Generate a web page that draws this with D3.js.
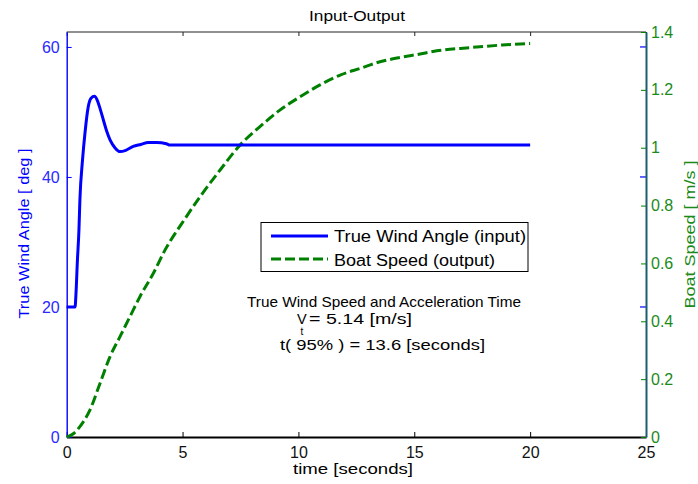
<!DOCTYPE html>
<html>
<head>
<meta charset="utf-8">
<script src="https://cdn.jsdelivr.net/npm/d3@7"></script>
<style>
  html, body { margin: 0; padding: 0; background: #fff; }
  svg { display: block; font-family: "Liberation Sans", Arial, Helvetica, sans-serif; }
</style>
</head>
<body>
<svg id="chart" width="698" height="484"></svg>
<script>
// True wind angle response (input)
const angleTime = [0, 0.36, 0.40, 0.46, 0.53, 0.57, 0.68, 0.79, 0.93, 1.05, 1.2, 1.32, 1.45, 1.58, 1.72, 1.87, 2.08, 2.3, 2.55, 2.87, 3.2, 3.52, 3.88, 4.3, 4.46, 20];
const angleDeg  = [20, 20, 22, 27, 32, 36.5, 42.5, 46.8, 50.8, 52.1, 52.4, 51.8, 50.4, 48.8, 47.1, 45.7, 44.5, 43.9, 44.1, 44.7, 45.0, 45.3, 45.3, 45.1, 44.9, 44.9];

// Boat speed response (output)
const speedTime = [0, 0.3, 0.57, 1.0, 1.44, 1.87, 2.3, 2.73, 3.16, 3.74, 4.24, 5.0, 5.75, 6.62, 7.48, 8.34, 9.2, 10.07, 10.93, 11.8, 12.66, 13.52, 14.39, 15.25, 15.97, 17.4, 18.8, 20];
const speedMs   = [0, 0.012, 0.036, 0.093, 0.186, 0.278, 0.347, 0.416, 0.485, 0.566, 0.646, 0.742, 0.83, 0.923, 1.009, 1.073, 1.13, 1.176, 1.217, 1.251, 1.274, 1.297, 1.312, 1.324, 1.335, 1.346, 1.355, 1.36];

// Axis ticks
const timeTicks  = [0, 5, 10, 15, 20, 25];
const angleTicks = [0, 20, 40, 60];
const speedTicks = [0, 0.2, 0.4, 0.6, 0.8, 1, 1.2, 1.4];

// Annotation values
const windSpeed = 5.14;
const accelTime = 13.6;

const svg = d3.select("#chart");
const L = 66.7, R = 646, T = 32, B = 437;

const x = d3.scaleLinear().domain([0, 25]).range([L, R]);
const yL = d3.scaleLinear().domain([0, 62.3]).range([B, T]);
const yR = d3.scaleLinear().domain([0, 1.4]).range([B, T]);

const blue = "#0000ff", green = "#008000", teal = "#1b5e6e", labelGreen = "#1a8a1a";

// Text helper: optional stretched width
function label(parent, txt, attrs, width) {
  const t = parent.append("text").text(txt);
  Object.entries(attrs).forEach(([k, v]) => t.attr(k, v));
  if (width) t.attr("textLength", width).attr("lengthAdjust", "spacingAndGlyphs");
  return t;
}

// Title
label(svg, "Input-Output", { x: 357, y: 21, "text-anchor": "middle", "font-size": 14, fill: "#000" }, 96);

// Top border with inward ticks
svg.append("line").attr("x1", L).attr("x2", R).attr("y1", T).attr("y2", T)
  .attr("stroke", "#222").attr("stroke-width", 1.2);
const topAxis = d3.axisTop(x).tickValues(timeTicks).tickSizeInner(-4).tickSizeOuter(0).tickFormat("");
svg.append("g").attr("transform", `translate(0,${T})`).call(topAxis)
  .call(g => g.select(".domain").remove())
  .selectAll("line").attr("stroke", "#222");

// Bottom axis
const bottomAxis = d3.axisBottom(x).tickValues(timeTicks).tickSizeInner(-5).tickSizeOuter(0).tickPadding(9).tickFormat(d3.format("d"));
const gx = svg.append("g").attr("transform", `translate(0,${B})`).call(bottomAxis);
gx.select(".domain").attr("stroke", "#000").attr("stroke-width", 2);
gx.selectAll(".tick line").attr("stroke", "#000");
gx.selectAll("text").attr("font-size", 16).attr("fill", "#111").attr("font-family", "Liberation Sans, Arial, sans-serif").attr("dy", "0.75em");

// Left axis (angle)
const leftAxis = d3.axisLeft(yL).tickValues(angleTicks).tickSizeInner(-5).tickSizeOuter(0).tickPadding(7).tickFormat(d3.format("d"));
const gl = svg.append("g").attr("transform", `translate(${L},0)`).call(leftAxis);
gl.select(".domain").attr("stroke", blue).attr("stroke-width", 1.4);
gl.selectAll(".tick line").attr("stroke", blue);
gl.selectAll("text").attr("font-size", 16).attr("fill", "#2a2aff").attr("font-family", "Liberation Sans, Arial, sans-serif");

// Mirrored angle ticks on the right edge
svg.append("g").selectAll("line").data(angleTicks.filter(d => d > 0)).join("line")
  .attr("x1", R - 6).attr("x2", R).attr("y1", d => yL(d)).attr("y2", d => yL(d))
  .attr("stroke", blue).attr("stroke-width", 1.2);

// Right axis (speed)
const rightAxis = d3.axisRight(yR).tickValues(speedTicks).tickSizeInner(-5).tickSizeOuter(0).tickPadding(5).tickFormat(d => d3.format("~g")(d));
const gr = svg.append("g").attr("transform", `translate(${R},0)`).call(rightAxis);
gr.select(".domain").attr("stroke", teal).attr("stroke-width", 2);
gr.selectAll(".tick line").attr("stroke", green);
gr.selectAll("text").attr("font-size", 16).attr("fill", labelGreen).attr("font-family", "Liberation Sans, Arial, sans-serif");

// Axis labels
label(svg, "True Wind Angle [ deg ]", { transform: `translate(29,${(T + B) / 2 - 1}) rotate(-90)`, "text-anchor": "middle", "font-size": 15, fill: blue }, 170);
label(svg, "Boat Speed [ m/s ]", { transform: `translate(695,${(T + B) / 2}) rotate(-90)`, "text-anchor": "middle", "font-size": 15, fill: labelGreen }, 148);
label(svg, "time [seconds]", { x: 353, y: 473.5, "text-anchor": "middle", "font-size": 15, fill: "#000" }, 120);

// Data lines
const angleLine = d3.line().x((d, i) => x(angleTime[i])).y(d => yL(d)).curve(d3.curveMonotoneX);
const speedLine = d3.line().x((d, i) => x(speedTime[i])).y(d => yR(d)).curve(d3.curveMonotoneX);

svg.append("path").attr("d", speedLine(speedMs)).attr("fill", "none")
  .attr("stroke", green).attr("stroke-width", 3).attr("stroke-dasharray", "10,4");
svg.append("path").attr("d", angleLine(angleDeg)).attr("fill", "none")
  .attr("stroke", blue).attr("stroke-width", 3);

// Legend
const lg = svg.append("g");
lg.append("rect").attr("x", 261).attr("y", 222.5).attr("width", 267).attr("height", 49)
  .attr("fill", "#fff").attr("stroke", "#000").attr("stroke-width", 1);
lg.append("line").attr("x1", 271).attr("x2", 328).attr("y1", 236).attr("y2", 236)
  .attr("stroke", blue).attr("stroke-width", 3);
lg.append("line").attr("x1", 271).attr("x2", 328).attr("y1", 259).attr("y2", 259)
  .attr("stroke", green).attr("stroke-width", 3).attr("stroke-dasharray", "10,4");
label(lg, "True Wind Angle (input)", { x: 334, y: 242, "font-size": 16, fill: "#000" }, 192);
label(lg, "Boat Speed (output)", { x: 334, y: 265.5, "font-size": 16, fill: "#000" }, 161);

// Annotation
const ann = svg.append("g").attr("fill", "#000");
label(ann, "True Wind Speed and Acceleration Time", { x: 247, y: 307, "font-size": 15 }, 274);
label(ann, "V", { x: 297, y: 324, "font-size": 14.5 });
label(ann, "t", { x: 300.5, y: 334.5, "font-size": 10 });
label(ann, `= ${windSpeed.toFixed(2)} [m/s]`, { x: 309, y: 324, "font-size": 14.5 }, 103);
label(ann, `t( 95% ) = ${accelTime.toFixed(1)} [seconds]`, { x: 280, y: 349.5, "font-size": 15 }, 205);
</script>
</body>
</html>
